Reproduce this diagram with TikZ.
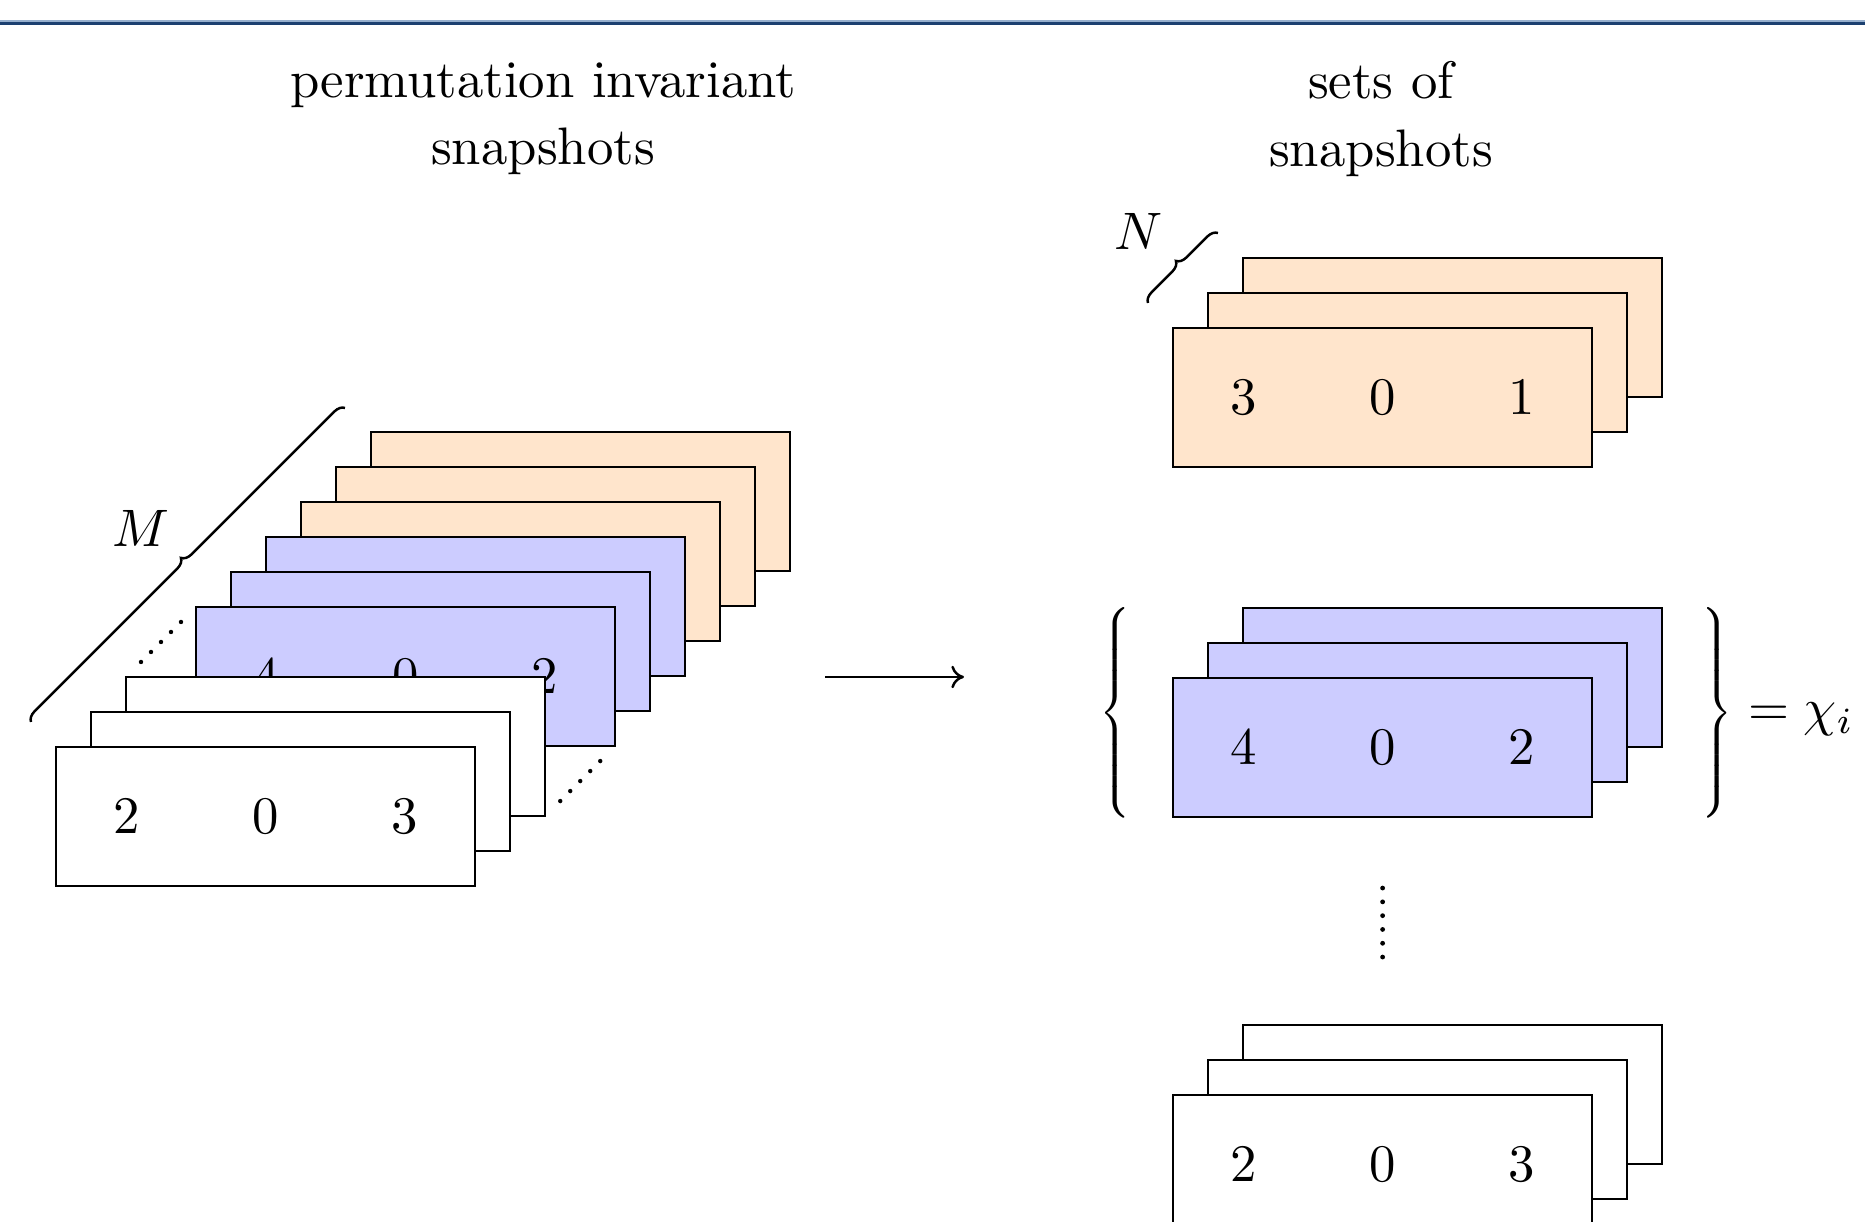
\documentclass[tikz,border=0pt]{standalone}
\usetikzlibrary{calc,decorations.pathreplacing,arrows.meta}
\definecolor{rulenavy}{RGB}{28,64,112}
\definecolor{rulelight}{RGB}{150,175,205}
\colorlet{peach}{orange!20}
\colorlet{lavender}{blue!20}
\begin{document}
\begin{tikzpicture}[x=0.01cm, y=0.01cm,
  card/.style={draw=black, line width=0.7pt, minimum width=4.19cm, minimum height=1.39cm,
               anchor=north west, inner sep=0pt, outer sep=0pt},
  lbl/.style={scale=1.5, transform shape, inner sep=0pt, outer sep=0pt},
  setbrace/.style={inner sep=0pt, outer sep=0pt},
  wire/.style={line width=0.7pt},
  bracedeco/.style={line width=0.7pt, decorate, decoration={brace, amplitude=0.1cm}},
  dotmark/.style={fill=black},
]
\useasboundingbox (0,0) rectangle (1865,1222);
\clip (0,0) rectangle (1865,1222);

% header rule
\draw[rulelight, line width=0.5pt] (0,1201) -- (1865,1201);
\draw[rulenavy, line width=1.1pt] (0,1198.5) -- (1865,1198.5);

% column titles
\node[lbl, align=center] (titleL) at (543,1103) {permutation invariant\\[0.8pt]snapshots};
\node[lbl, align=center] (titleR) at (1381,1103) {sets of\\[0.8pt]snapshots};

% ---------- left: M permutation invariant snapshots, back to front ----------
\foreach \k/\col in {9/peach,8/peach,7/peach,6/lavender,5/lavender,4/lavender}
  \node[card, fill=\col] (L\k) at ({56+35*\k},{475+35*\k}) {};
\foreach \d [count=\i from -1] in {4,0,2}
  \node[lbl] (L4d\i) at ($(L4.center)+(139*\i,0)$) {$\d$};
\foreach \k in {2,1,0}
  \node[card, fill=white] (L\k) at ({56+35*\k},{475+35*\k}) {};
\foreach \d [count=\i from -1] in {2,0,3}
  \node[lbl] (L0d\i) at ($(L0.center)+(139*\i,0)$) {$\d$};

% omitted snapshots
\foreach \t in {-2,...,2} {
  \fill[dotmark] ($(L2.north west)+(35+10*\t,35+10*\t)$) circle (0.022cm);
  \fill[dotmark] ($(L4.south east)+(-35+10*\t,-35+10*\t)$) circle (0.022cm);
}

% brace counting M snapshots
\draw[bracedeco] ($(L0.north west)+(-25,25)$) coordinate (Mb0)
  -- ($(L9.north west)+(-25,25)$) coordinate (Mb1);
\node[lbl] (Mlabel) at ($(Mb0)!0.5!(Mb1)+(-48,36)$) {$M$};

% map arrow
\coordinate (arrS) at (825,545);
\coordinate (arrE) at (964,545);
\draw[wire, -{Computer Modern Rightarrow[length=3.6pt, width=6.4pt]}] (arrS) -- (arrE);

% ---------- right: sets of N snapshots ----------
% first set
\foreach \k in {2,1,0}
  \node[card, fill=peach] (T\k) at ({1173+35*\k},{894+35*\k}) {};
\foreach \d [count=\i from -1] in {3,0,1}
  \node[lbl] (T0d\i) at ($(T0.center)+(139*\i,0)$) {$\d$};
\draw[bracedeco] ($(T0.north west)+(-25,25)$) coordinate (Nb0)
  -- ($(T2.north west)+(-25,25)$) coordinate (Nb1);
\node[lbl] (Nlabel) at ($(Nb0)!0.5!(Nb1)+(-44,36)$) {$N$};

% second set, chi_i
\foreach \k in {2,1,0}
  \node[card, fill=lavender] (B\k) at ({1173+35*\k},{544+35*\k}) {};
\foreach \d [count=\i from -1] in {4,0,2}
  \node[lbl] (B0d\i) at ($(B0.center)+(139*\i,0)$) {$\d$};
\node[setbrace] (setL) at (1115.5,509)
  {\nulldelimiterspace=0pt\delimitershortfall=0pt\delimiterfactor=1000
   $\left\{\vcenter{\hrule height 2.0cm width 0pt}\right.$};
\node[setbrace] (setR) at (1717.5,509)
  {\nulldelimiterspace=0pt\delimitershortfall=0pt\delimiterfactor=1000
   $\left.\vcenter{\hrule height 2.0cm width 0pt}\right\}$};
\node[lbl, anchor=base west] (chi) at (1748,496) {$=\chi_i$};

% further sets
\foreach \t in {0,...,5}
  \fill[dotmark] ($(B0.south)+(0,-71-13.8*\t)$) circle (0.024cm);

% last set
\foreach \k in {2,1,0}
  \node[card, fill=white] (W\k) at ({1173+35*\k},{127+35*\k}) {};
\foreach \d [count=\i from -1] in {2,0,3}
  \node[lbl] (W0d\i) at ($(W0.center)+(139*\i,0)$) {$\d$};
\end{tikzpicture}
\end{document}
